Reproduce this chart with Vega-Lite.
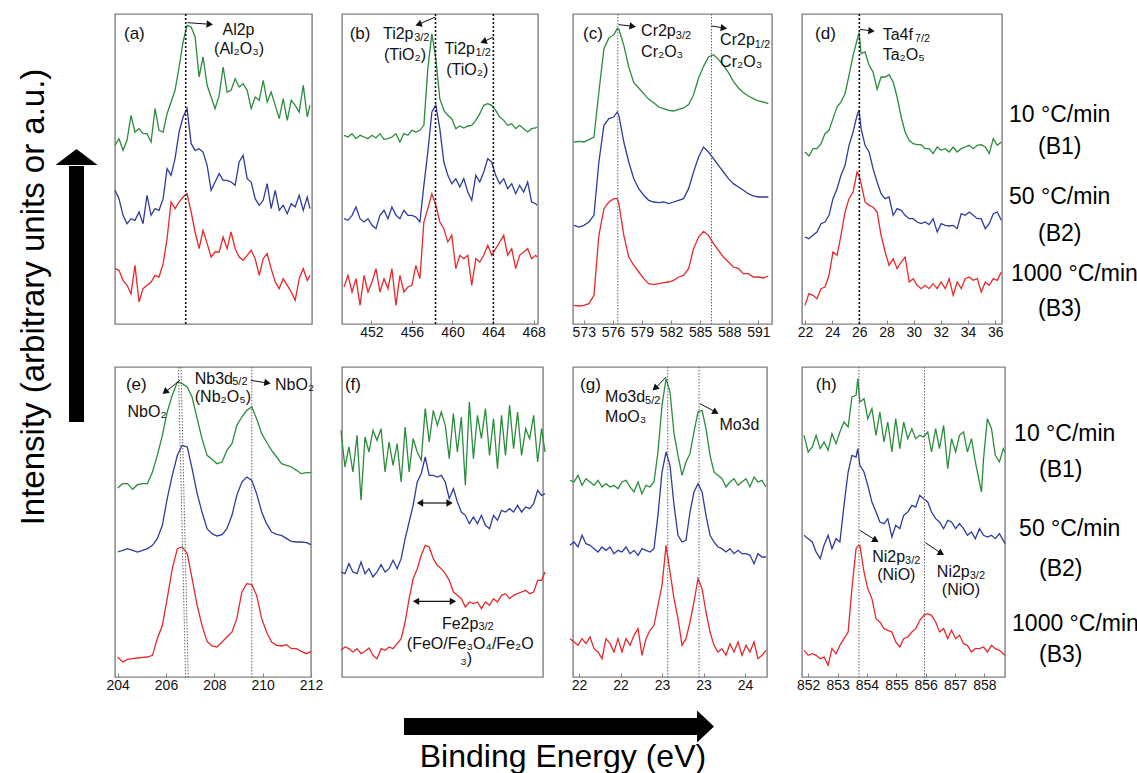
{
"$schema":"https://vega.github.io/schema/vega-lite/v6.json",
"padding":{"left":0,"top":12,"right":0,"bottom":0},
"background":"white",
"config":{
"font":"Liberation Sans",
"view":{"stroke":"#808080","strokeWidth":1.4},
"axisX":{"title":null,"grid":false,"domain":false,"ticks":true,"tickSize":-4,"tickColor":"#808080","labelFontSize":14,"labelColor":"#111","labelPadding":5,"labelFlush":false,"labelOverlap":false,"labelFont":"Liberation Sans"},
"range":{"category":["#2a8c3c","#2e3d9c","#e8282a"]},
"line":{"strokeWidth":1.3},
"text":{"font":"Liberation Sans","align":"left","baseline":"middle","fontSize":16,"color":"#111"},
"point":{"filled":true,"color":"#111","opacity":1}
},
"datasets":{
"a":[{"x":68.85,"y":536,"s":"B1"},{"x":69.2,"y":556,"s":"B1"},{"x":69.56,"y":521,"s":"B1"},{"x":69.91,"y":551,"s":"B1"},{"x":70.26,"y":626,"s":"B1"},{"x":70.61,"y":576,"s":"B1"},{"x":70.97,"y":586,"s":"B1"},{"x":71.32,"y":571,"s":"B1"},{"x":71.67,"y":571,"s":"B1"},{"x":72.03,"y":546,"s":"B1"},{"x":72.38,"y":646,"s":"B1"},{"x":72.73,"y":581,"s":"B1"},{"x":73.09,"y":576,"s":"B1"},{"x":73.44,"y":631,"s":"B1"},{"x":73.79,"y":666,"s":"B1"},{"x":74.14,"y":701,"s":"B1"},{"x":74.5,"y":771,"s":"B1"},{"x":74.85,"y":846,"s":"B1"},{"x":75.2,"y":896,"s":"B1"},{"x":75.56,"y":891,"s":"B1"},{"x":75.91,"y":861,"s":"B1"},{"x":76.26,"y":741,"s":"B1"},{"x":76.61,"y":801,"s":"B1"},{"x":76.97,"y":716,"s":"B1"},{"x":77.32,"y":681,"s":"B1"},{"x":77.67,"y":646,"s":"B1"},{"x":78.03,"y":686,"s":"B1"},{"x":78.38,"y":771,"s":"B1"},{"x":78.73,"y":696,"s":"B1"},{"x":79.08,"y":701,"s":"B1"},{"x":79.44,"y":736,"s":"B1"},{"x":79.79,"y":711,"s":"B1"},{"x":80.14,"y":721,"s":"B1"},{"x":80.5,"y":701,"s":"B1"},{"x":80.85,"y":646,"s":"B1"},{"x":81.2,"y":681,"s":"B1"},{"x":81.56,"y":671,"s":"B1"},{"x":81.91,"y":731,"s":"B1"},{"x":82.26,"y":666,"s":"B1"},{"x":82.61,"y":696,"s":"B1"},{"x":82.97,"y":656,"s":"B1"},{"x":83.32,"y":616,"s":"B1"},{"x":83.67,"y":676,"s":"B1"},{"x":84.03,"y":611,"s":"B1"},{"x":84.38,"y":671,"s":"B1"},{"x":84.73,"y":656,"s":"B1"},{"x":85.08,"y":636,"s":"B1"},{"x":85.44,"y":716,"s":"B1"},{"x":85.79,"y":621,"s":"B1"},{"x":86.03,"y":656,"s":"B1"},
{"x":68.85,"y":401,"s":"B2"},{"x":69.2,"y":376,"s":"B2"},{"x":69.56,"y":326,"s":"B2"},{"x":69.91,"y":301,"s":"B2"},{"x":70.26,"y":316,"s":"B2"},{"x":70.61,"y":311,"s":"B2"},{"x":70.97,"y":336,"s":"B2"},{"x":71.32,"y":301,"s":"B2"},{"x":71.67,"y":386,"s":"B2"},{"x":72.03,"y":326,"s":"B2"},{"x":72.38,"y":346,"s":"B2"},{"x":72.73,"y":341,"s":"B2"},{"x":73.09,"y":376,"s":"B2"},{"x":73.44,"y":466,"s":"B2"},{"x":73.79,"y":446,"s":"B2"},{"x":74.14,"y":496,"s":"B2"},{"x":74.5,"y":576,"s":"B2"},{"x":74.85,"y":621,"s":"B2"},{"x":75.2,"y":646,"s":"B2"},{"x":75.56,"y":541,"s":"B2"},{"x":75.91,"y":521,"s":"B2"},{"x":76.26,"y":526,"s":"B2"},{"x":76.61,"y":516,"s":"B2"},{"x":76.97,"y":476,"s":"B2"},{"x":77.32,"y":401,"s":"B2"},{"x":77.67,"y":426,"s":"B2"},{"x":78.03,"y":451,"s":"B2"},{"x":78.38,"y":431,"s":"B2"},{"x":78.73,"y":431,"s":"B2"},{"x":79.08,"y":426,"s":"B2"},{"x":79.44,"y":416,"s":"B2"},{"x":79.79,"y":486,"s":"B2"},{"x":80.14,"y":506,"s":"B2"},{"x":80.5,"y":436,"s":"B2"},{"x":80.85,"y":426,"s":"B2"},{"x":81.2,"y":376,"s":"B2"},{"x":81.56,"y":356,"s":"B2"},{"x":81.91,"y":371,"s":"B2"},{"x":82.26,"y":421,"s":"B2"},{"x":82.61,"y":346,"s":"B2"},{"x":82.97,"y":401,"s":"B2"},{"x":83.32,"y":341,"s":"B2"},{"x":83.67,"y":356,"s":"B2"},{"x":84.03,"y":331,"s":"B2"},{"x":84.38,"y":361,"s":"B2"},{"x":84.73,"y":351,"s":"B2"},{"x":85.08,"y":386,"s":"B2"},{"x":85.44,"y":341,"s":"B2"},{"x":85.79,"y":381,"s":"B2"},{"x":86.03,"y":346,"s":"B2"},
{"x":68.85,"y":166,"s":"B3"},{"x":69.2,"y":161,"s":"B3"},{"x":69.56,"y":131,"s":"B3"},{"x":69.91,"y":116,"s":"B3"},{"x":70.26,"y":91,"s":"B3"},{"x":70.61,"y":176,"s":"B3"},{"x":70.97,"y":66,"s":"B3"},{"x":71.32,"y":106,"s":"B3"},{"x":71.67,"y":116,"s":"B3"},{"x":72.03,"y":126,"s":"B3"},{"x":72.38,"y":146,"s":"B3"},{"x":72.73,"y":141,"s":"B3"},{"x":73.09,"y":181,"s":"B3"},{"x":73.44,"y":256,"s":"B3"},{"x":73.79,"y":366,"s":"B3"},{"x":74.14,"y":346,"s":"B3"},{"x":74.5,"y":366,"s":"B3"},{"x":74.85,"y":381,"s":"B3"},{"x":75.2,"y":391,"s":"B3"},{"x":75.56,"y":336,"s":"B3"},{"x":75.91,"y":276,"s":"B3"},{"x":76.26,"y":226,"s":"B3"},{"x":76.61,"y":281,"s":"B3"},{"x":76.97,"y":241,"s":"B3"},{"x":77.32,"y":201,"s":"B3"},{"x":77.67,"y":216,"s":"B3"},{"x":78.03,"y":216,"s":"B3"},{"x":78.38,"y":261,"s":"B3"},{"x":78.73,"y":226,"s":"B3"},{"x":79.08,"y":276,"s":"B3"},{"x":79.44,"y":226,"s":"B3"},{"x":79.79,"y":201,"s":"B3"},{"x":80.14,"y":191,"s":"B3"},{"x":80.5,"y":206,"s":"B3"},{"x":80.85,"y":221,"s":"B3"},{"x":81.2,"y":196,"s":"B3"},{"x":81.56,"y":146,"s":"B3"},{"x":81.91,"y":196,"s":"B3"},{"x":82.26,"y":211,"s":"B3"},{"x":82.61,"y":166,"s":"B3"},{"x":82.97,"y":126,"s":"B3"},{"x":83.32,"y":106,"s":"B3"},{"x":83.67,"y":136,"s":"B3"},{"x":84.03,"y":116,"s":"B3"},{"x":84.38,"y":96,"s":"B3"},{"x":84.73,"y":71,"s":"B3"},{"x":85.08,"y":136,"s":"B3"},{"x":85.44,"y":166,"s":"B3"},{"x":85.79,"y":131,"s":"B3"},{"x":86.03,"y":146,"s":"B3"}],
"b":[{"x":449.31,"y":566,"s":"B1"},{"x":449.7,"y":561,"s":"B1"},{"x":450.1,"y":571,"s":"B1"},{"x":450.49,"y":556,"s":"B1"},{"x":450.89,"y":566,"s":"B1"},{"x":451.28,"y":561,"s":"B1"},{"x":451.67,"y":556,"s":"B1"},{"x":452.07,"y":566,"s":"B1"},{"x":452.46,"y":558,"s":"B1"},{"x":452.85,"y":571,"s":"B1"},{"x":453.25,"y":554,"s":"B1"},{"x":453.64,"y":556,"s":"B1"},{"x":454.03,"y":561,"s":"B1"},{"x":454.43,"y":571,"s":"B1"},{"x":454.82,"y":546,"s":"B1"},{"x":455.21,"y":571,"s":"B1"},{"x":455.61,"y":566,"s":"B1"},{"x":456.0,"y":581,"s":"B1"},{"x":456.39,"y":576,"s":"B1"},{"x":456.79,"y":581,"s":"B1"},{"x":457.18,"y":596,"s":"B1"},{"x":457.57,"y":766,"s":"B1"},{"x":457.97,"y":871,"s":"B1"},{"x":458.36,"y":796,"s":"B1"},{"x":458.75,"y":676,"s":"B1"},{"x":459.15,"y":641,"s":"B1"},{"x":459.54,"y":626,"s":"B1"},{"x":459.93,"y":616,"s":"B1"},{"x":460.33,"y":586,"s":"B1"},{"x":460.72,"y":594,"s":"B1"},{"x":461.11,"y":588,"s":"B1"},{"x":461.51,"y":594,"s":"B1"},{"x":461.9,"y":596,"s":"B1"},{"x":462.3,"y":611,"s":"B1"},{"x":462.69,"y":631,"s":"B1"},{"x":463.08,"y":656,"s":"B1"},{"x":463.48,"y":661,"s":"B1"},{"x":463.87,"y":656,"s":"B1"},{"x":464.26,"y":641,"s":"B1"},{"x":464.66,"y":621,"s":"B1"},{"x":465.05,"y":611,"s":"B1"},{"x":465.44,"y":596,"s":"B1"},{"x":465.84,"y":601,"s":"B1"},{"x":466.23,"y":586,"s":"B1"},{"x":466.62,"y":596,"s":"B1"},{"x":467.02,"y":586,"s":"B1"},{"x":467.41,"y":576,"s":"B1"},{"x":467.8,"y":586,"s":"B1"},{"x":468.2,"y":588,"s":"B1"},{"x":468.33,"y":591,"s":"B1"},
{"x":449.31,"y":316,"s":"B2"},{"x":449.7,"y":311,"s":"B2"},{"x":450.1,"y":326,"s":"B2"},{"x":450.49,"y":351,"s":"B2"},{"x":450.89,"y":316,"s":"B2"},{"x":451.28,"y":306,"s":"B2"},{"x":451.67,"y":316,"s":"B2"},{"x":452.07,"y":296,"s":"B2"},{"x":452.46,"y":286,"s":"B2"},{"x":452.85,"y":326,"s":"B2"},{"x":453.25,"y":341,"s":"B2"},{"x":453.64,"y":316,"s":"B2"},{"x":454.03,"y":351,"s":"B2"},{"x":454.43,"y":326,"s":"B2"},{"x":454.82,"y":316,"s":"B2"},{"x":455.21,"y":341,"s":"B2"},{"x":455.61,"y":326,"s":"B2"},{"x":456.0,"y":326,"s":"B2"},{"x":456.39,"y":321,"s":"B2"},{"x":456.79,"y":306,"s":"B2"},{"x":457.18,"y":416,"s":"B2"},{"x":457.57,"y":516,"s":"B2"},{"x":457.97,"y":636,"s":"B2"},{"x":458.36,"y":656,"s":"B2"},{"x":458.75,"y":586,"s":"B2"},{"x":459.15,"y":486,"s":"B2"},{"x":459.54,"y":446,"s":"B2"},{"x":459.93,"y":421,"s":"B2"},{"x":460.33,"y":436,"s":"B2"},{"x":460.72,"y":411,"s":"B2"},{"x":461.11,"y":436,"s":"B2"},{"x":461.51,"y":396,"s":"B2"},{"x":461.9,"y":371,"s":"B2"},{"x":462.3,"y":446,"s":"B2"},{"x":462.69,"y":426,"s":"B2"},{"x":463.08,"y":456,"s":"B2"},{"x":463.48,"y":496,"s":"B2"},{"x":463.87,"y":486,"s":"B2"},{"x":464.26,"y":446,"s":"B2"},{"x":464.66,"y":421,"s":"B2"},{"x":465.05,"y":436,"s":"B2"},{"x":465.44,"y":406,"s":"B2"},{"x":465.84,"y":421,"s":"B2"},{"x":466.23,"y":391,"s":"B2"},{"x":466.62,"y":416,"s":"B2"},{"x":467.02,"y":396,"s":"B2"},{"x":467.41,"y":426,"s":"B2"},{"x":467.8,"y":366,"s":"B2"},{"x":468.2,"y":361,"s":"B2"},{"x":468.33,"y":356,"s":"B2"},
{"x":449.31,"y":111,"s":"B3"},{"x":449.7,"y":146,"s":"B3"},{"x":450.1,"y":96,"s":"B3"},{"x":450.49,"y":136,"s":"B3"},{"x":450.89,"y":56,"s":"B3"},{"x":451.28,"y":146,"s":"B3"},{"x":451.67,"y":96,"s":"B3"},{"x":452.07,"y":126,"s":"B3"},{"x":452.46,"y":166,"s":"B3"},{"x":452.85,"y":96,"s":"B3"},{"x":453.25,"y":136,"s":"B3"},{"x":453.64,"y":106,"s":"B3"},{"x":454.03,"y":166,"s":"B3"},{"x":454.43,"y":56,"s":"B3"},{"x":454.82,"y":146,"s":"B3"},{"x":455.21,"y":96,"s":"B3"},{"x":455.61,"y":111,"s":"B3"},{"x":456.0,"y":116,"s":"B3"},{"x":456.39,"y":176,"s":"B3"},{"x":456.79,"y":136,"s":"B3"},{"x":457.18,"y":306,"s":"B3"},{"x":457.57,"y":346,"s":"B3"},{"x":457.97,"y":391,"s":"B3"},{"x":458.36,"y":356,"s":"B3"},{"x":458.75,"y":306,"s":"B3"},{"x":459.15,"y":286,"s":"B3"},{"x":459.54,"y":246,"s":"B3"},{"x":459.93,"y":266,"s":"B3"},{"x":460.33,"y":166,"s":"B3"},{"x":460.72,"y":206,"s":"B3"},{"x":461.11,"y":196,"s":"B3"},{"x":461.51,"y":206,"s":"B3"},{"x":461.9,"y":116,"s":"B3"},{"x":462.3,"y":196,"s":"B3"},{"x":462.69,"y":186,"s":"B3"},{"x":463.08,"y":206,"s":"B3"},{"x":463.48,"y":236,"s":"B3"},{"x":463.87,"y":206,"s":"B3"},{"x":464.26,"y":226,"s":"B3"},{"x":464.66,"y":246,"s":"B3"},{"x":465.05,"y":266,"s":"B3"},{"x":465.44,"y":206,"s":"B3"},{"x":465.84,"y":226,"s":"B3"},{"x":466.23,"y":166,"s":"B3"},{"x":466.62,"y":206,"s":"B3"},{"x":467.02,"y":216,"s":"B3"},{"x":467.41,"y":226,"s":"B3"},{"x":467.8,"y":196,"s":"B3"},{"x":468.2,"y":206,"s":"B3"},{"x":468.33,"y":201,"s":"B3"}],
"c":[{"x":571.99,"y":546,"s":"B1"},{"x":572.51,"y":548,"s":"B1"},{"x":573.02,"y":546,"s":"B1"},{"x":573.53,"y":553,"s":"B1"},{"x":574.05,"y":561,"s":"B1"},{"x":574.56,"y":696,"s":"B1"},{"x":575.08,"y":826,"s":"B1"},{"x":575.59,"y":858,"s":"B1"},{"x":576.1,"y":868,"s":"B1"},{"x":576.45,"y":886,"s":"B1"},{"x":576.62,"y":884,"s":"B1"},{"x":577.13,"y":836,"s":"B1"},{"x":577.64,"y":771,"s":"B1"},{"x":578.16,"y":724,"s":"B1"},{"x":578.67,"y":708,"s":"B1"},{"x":579.18,"y":691,"s":"B1"},{"x":579.7,"y":674,"s":"B1"},{"x":580.21,"y":664,"s":"B1"},{"x":580.73,"y":651,"s":"B1"},{"x":581.24,"y":646,"s":"B1"},{"x":581.75,"y":641,"s":"B1"},{"x":582.27,"y":639,"s":"B1"},{"x":582.78,"y":644,"s":"B1"},{"x":583.29,"y":648,"s":"B1"},{"x":583.81,"y":658,"s":"B1"},{"x":584.32,"y":688,"s":"B1"},{"x":584.84,"y":738,"s":"B1"},{"x":585.35,"y":773,"s":"B1"},{"x":585.86,"y":801,"s":"B1"},{"x":586.38,"y":808,"s":"B1"},{"x":586.89,"y":794,"s":"B1"},{"x":587.4,"y":776,"s":"B1"},{"x":587.92,"y":754,"s":"B1"},{"x":588.43,"y":728,"s":"B1"},{"x":588.95,"y":708,"s":"B1"},{"x":589.46,"y":694,"s":"B1"},{"x":589.97,"y":684,"s":"B1"},{"x":590.49,"y":676,"s":"B1"},{"x":591.0,"y":669,"s":"B1"},{"x":591.51,"y":666,"s":"B1"},{"x":592.03,"y":661,"s":"B1"},
{"x":571.99,"y":296,"s":"B2"},{"x":572.51,"y":291,"s":"B2"},{"x":573.02,"y":296,"s":"B2"},{"x":573.53,"y":306,"s":"B2"},{"x":574.05,"y":326,"s":"B2"},{"x":574.56,"y":486,"s":"B2"},{"x":575.08,"y":596,"s":"B2"},{"x":575.59,"y":616,"s":"B2"},{"x":576.1,"y":621,"s":"B2"},{"x":576.45,"y":636,"s":"B2"},{"x":576.62,"y":626,"s":"B2"},{"x":577.13,"y":546,"s":"B2"},{"x":577.64,"y":486,"s":"B2"},{"x":578.16,"y":436,"s":"B2"},{"x":578.67,"y":406,"s":"B2"},{"x":579.18,"y":386,"s":"B2"},{"x":579.7,"y":371,"s":"B2"},{"x":580.21,"y":366,"s":"B2"},{"x":580.73,"y":364,"s":"B2"},{"x":581.24,"y":366,"s":"B2"},{"x":581.75,"y":361,"s":"B2"},{"x":582.27,"y":366,"s":"B2"},{"x":582.78,"y":371,"s":"B2"},{"x":583.29,"y":376,"s":"B2"},{"x":583.81,"y":406,"s":"B2"},{"x":584.32,"y":456,"s":"B2"},{"x":584.84,"y":501,"s":"B2"},{"x":585.35,"y":531,"s":"B2"},{"x":585.86,"y":516,"s":"B2"},{"x":586.38,"y":496,"s":"B2"},{"x":586.89,"y":476,"s":"B2"},{"x":587.4,"y":456,"s":"B2"},{"x":587.92,"y":436,"s":"B2"},{"x":588.43,"y":421,"s":"B2"},{"x":588.95,"y":411,"s":"B2"},{"x":589.46,"y":401,"s":"B2"},{"x":589.97,"y":391,"s":"B2"},{"x":590.49,"y":384,"s":"B2"},{"x":591.0,"y":381,"s":"B2"},{"x":591.51,"y":381,"s":"B2"},{"x":592.03,"y":381,"s":"B2"},
{"x":571.99,"y":56,"s":"B3"},{"x":572.51,"y":54,"s":"B3"},{"x":573.02,"y":56,"s":"B3"},{"x":573.53,"y":61,"s":"B3"},{"x":574.05,"y":86,"s":"B3"},{"x":574.56,"y":266,"s":"B3"},{"x":575.08,"y":346,"s":"B3"},{"x":575.59,"y":366,"s":"B3"},{"x":576.1,"y":376,"s":"B3"},{"x":576.45,"y":376,"s":"B3"},{"x":576.62,"y":361,"s":"B3"},{"x":577.13,"y":266,"s":"B3"},{"x":577.64,"y":201,"s":"B3"},{"x":578.16,"y":176,"s":"B3"},{"x":578.67,"y":156,"s":"B3"},{"x":579.18,"y":136,"s":"B3"},{"x":579.7,"y":121,"s":"B3"},{"x":580.21,"y":118,"s":"B3"},{"x":580.73,"y":121,"s":"B3"},{"x":581.24,"y":124,"s":"B3"},{"x":581.75,"y":126,"s":"B3"},{"x":582.27,"y":131,"s":"B3"},{"x":582.78,"y":141,"s":"B3"},{"x":583.29,"y":146,"s":"B3"},{"x":583.81,"y":166,"s":"B3"},{"x":584.32,"y":226,"s":"B3"},{"x":584.84,"y":261,"s":"B3"},{"x":585.35,"y":278,"s":"B3"},{"x":585.86,"y":266,"s":"B3"},{"x":586.38,"y":241,"s":"B3"},{"x":586.89,"y":221,"s":"B3"},{"x":587.4,"y":201,"s":"B3"},{"x":587.92,"y":186,"s":"B3"},{"x":588.43,"y":171,"s":"B3"},{"x":588.95,"y":166,"s":"B3"},{"x":589.46,"y":151,"s":"B3"},{"x":589.97,"y":151,"s":"B3"},{"x":590.49,"y":141,"s":"B3"},{"x":591.0,"y":141,"s":"B3"},{"x":591.51,"y":138,"s":"B3"},{"x":592.03,"y":144,"s":"B3"}],
"d":[{"x":22.0,"y":516,"s":"B1"},{"x":22.29,"y":504,"s":"B1"},{"x":22.59,"y":526,"s":"B1"},{"x":22.88,"y":526,"s":"B1"},{"x":23.18,"y":541,"s":"B1"},{"x":23.47,"y":571,"s":"B1"},{"x":23.77,"y":581,"s":"B1"},{"x":24.06,"y":616,"s":"B1"},{"x":24.36,"y":651,"s":"B1"},{"x":24.65,"y":666,"s":"B1"},{"x":24.95,"y":691,"s":"B1"},{"x":25.24,"y":746,"s":"B1"},{"x":25.54,"y":806,"s":"B1"},{"x":25.83,"y":851,"s":"B1"},{"x":25.98,"y":874,"s":"B1"},{"x":26.13,"y":811,"s":"B1"},{"x":26.42,"y":816,"s":"B1"},{"x":26.72,"y":776,"s":"B1"},{"x":27.01,"y":756,"s":"B1"},{"x":27.31,"y":704,"s":"B1"},{"x":27.6,"y":741,"s":"B1"},{"x":27.9,"y":741,"s":"B1"},{"x":28.19,"y":748,"s":"B1"},{"x":28.49,"y":726,"s":"B1"},{"x":28.78,"y":681,"s":"B1"},{"x":29.08,"y":621,"s":"B1"},{"x":29.37,"y":576,"s":"B1"},{"x":29.67,"y":551,"s":"B1"},{"x":29.96,"y":541,"s":"B1"},{"x":30.25,"y":538,"s":"B1"},{"x":30.55,"y":538,"s":"B1"},{"x":30.84,"y":526,"s":"B1"},{"x":31.14,"y":526,"s":"B1"},{"x":31.43,"y":511,"s":"B1"},{"x":31.73,"y":531,"s":"B1"},{"x":32.02,"y":521,"s":"B1"},{"x":32.32,"y":526,"s":"B1"},{"x":32.61,"y":516,"s":"B1"},{"x":32.91,"y":531,"s":"B1"},{"x":33.2,"y":516,"s":"B1"},{"x":33.5,"y":526,"s":"B1"},{"x":33.79,"y":531,"s":"B1"},{"x":34.09,"y":536,"s":"B1"},{"x":34.38,"y":526,"s":"B1"},{"x":34.68,"y":536,"s":"B1"},{"x":34.97,"y":538,"s":"B1"},{"x":35.27,"y":531,"s":"B1"},{"x":35.56,"y":511,"s":"B1"},{"x":35.86,"y":556,"s":"B1"},{"x":36.15,"y":536,"s":"B1"},{"x":36.45,"y":546,"s":"B1"},
{"x":22.0,"y":261,"s":"B2"},{"x":22.29,"y":256,"s":"B2"},{"x":22.59,"y":266,"s":"B2"},{"x":22.88,"y":276,"s":"B2"},{"x":23.18,"y":301,"s":"B2"},{"x":23.47,"y":306,"s":"B2"},{"x":23.77,"y":326,"s":"B2"},{"x":24.06,"y":376,"s":"B2"},{"x":24.36,"y":406,"s":"B2"},{"x":24.65,"y":446,"s":"B2"},{"x":24.95,"y":476,"s":"B2"},{"x":25.24,"y":536,"s":"B2"},{"x":25.54,"y":576,"s":"B2"},{"x":25.83,"y":626,"s":"B2"},{"x":25.98,"y":641,"s":"B2"},{"x":26.13,"y":586,"s":"B2"},{"x":26.42,"y":536,"s":"B2"},{"x":26.72,"y":516,"s":"B2"},{"x":27.01,"y":466,"s":"B2"},{"x":27.31,"y":426,"s":"B2"},{"x":27.6,"y":391,"s":"B2"},{"x":27.9,"y":376,"s":"B2"},{"x":28.19,"y":381,"s":"B2"},{"x":28.49,"y":326,"s":"B2"},{"x":28.78,"y":346,"s":"B2"},{"x":29.08,"y":341,"s":"B2"},{"x":29.37,"y":326,"s":"B2"},{"x":29.67,"y":316,"s":"B2"},{"x":29.96,"y":316,"s":"B2"},{"x":30.25,"y":306,"s":"B2"},{"x":30.55,"y":301,"s":"B2"},{"x":30.84,"y":306,"s":"B2"},{"x":31.14,"y":298,"s":"B2"},{"x":31.43,"y":316,"s":"B2"},{"x":31.73,"y":276,"s":"B2"},{"x":32.02,"y":301,"s":"B2"},{"x":32.32,"y":296,"s":"B2"},{"x":32.61,"y":294,"s":"B2"},{"x":32.91,"y":296,"s":"B2"},{"x":33.2,"y":286,"s":"B2"},{"x":33.5,"y":331,"s":"B2"},{"x":33.79,"y":326,"s":"B2"},{"x":34.09,"y":336,"s":"B2"},{"x":34.38,"y":326,"s":"B2"},{"x":34.68,"y":316,"s":"B2"},{"x":34.97,"y":316,"s":"B2"},{"x":35.27,"y":286,"s":"B2"},{"x":35.56,"y":301,"s":"B2"},{"x":35.86,"y":331,"s":"B2"},{"x":36.15,"y":336,"s":"B2"},{"x":36.45,"y":311,"s":"B2"},
{"x":22.0,"y":56,"s":"B3"},{"x":22.29,"y":91,"s":"B3"},{"x":22.59,"y":86,"s":"B3"},{"x":22.88,"y":76,"s":"B3"},{"x":23.18,"y":106,"s":"B3"},{"x":23.47,"y":111,"s":"B3"},{"x":23.77,"y":146,"s":"B3"},{"x":24.06,"y":216,"s":"B3"},{"x":24.36,"y":206,"s":"B3"},{"x":24.65,"y":266,"s":"B3"},{"x":24.95,"y":336,"s":"B3"},{"x":25.24,"y":376,"s":"B3"},{"x":25.54,"y":396,"s":"B3"},{"x":25.83,"y":456,"s":"B3"},{"x":25.98,"y":446,"s":"B3"},{"x":26.13,"y":421,"s":"B3"},{"x":26.42,"y":366,"s":"B3"},{"x":26.72,"y":356,"s":"B3"},{"x":27.01,"y":351,"s":"B3"},{"x":27.31,"y":336,"s":"B3"},{"x":27.6,"y":266,"s":"B3"},{"x":27.9,"y":216,"s":"B3"},{"x":28.19,"y":176,"s":"B3"},{"x":28.49,"y":196,"s":"B3"},{"x":28.78,"y":166,"s":"B3"},{"x":29.08,"y":186,"s":"B3"},{"x":29.37,"y":201,"s":"B3"},{"x":29.67,"y":126,"s":"B3"},{"x":29.96,"y":136,"s":"B3"},{"x":30.25,"y":116,"s":"B3"},{"x":30.55,"y":106,"s":"B3"},{"x":30.84,"y":116,"s":"B3"},{"x":31.14,"y":106,"s":"B3"},{"x":31.43,"y":121,"s":"B3"},{"x":31.73,"y":106,"s":"B3"},{"x":32.02,"y":126,"s":"B3"},{"x":32.32,"y":106,"s":"B3"},{"x":32.61,"y":136,"s":"B3"},{"x":32.91,"y":86,"s":"B3"},{"x":33.2,"y":126,"s":"B3"},{"x":33.5,"y":106,"s":"B3"},{"x":33.79,"y":136,"s":"B3"},{"x":34.09,"y":141,"s":"B3"},{"x":34.38,"y":131,"s":"B3"},{"x":34.68,"y":136,"s":"B3"},{"x":34.97,"y":96,"s":"B3"},{"x":35.27,"y":126,"s":"B3"},{"x":35.56,"y":116,"s":"B3"},{"x":35.86,"y":136,"s":"B3"},{"x":36.15,"y":131,"s":"B3"},{"x":36.45,"y":156,"s":"B3"}],
"e":[{"x":204.0,"y":567,"s":"B1"},{"x":204.21,"y":580,"s":"B1"},{"x":204.41,"y":580,"s":"B1"},{"x":204.62,"y":563,"s":"B1"},{"x":204.82,"y":577,"s":"B1"},{"x":205.03,"y":580,"s":"B1"},{"x":205.23,"y":580,"s":"B1"},{"x":205.44,"y":615,"s":"B1"},{"x":205.64,"y":665,"s":"B1"},{"x":205.85,"y":725,"s":"B1"},{"x":206.05,"y":795,"s":"B1"},{"x":206.26,"y":845,"s":"B1"},{"x":206.47,"y":885,"s":"B1"},{"x":206.67,"y":880,"s":"B1"},{"x":206.88,"y":870,"s":"B1"},{"x":207.08,"y":840,"s":"B1"},{"x":207.29,"y":775,"s":"B1"},{"x":207.49,"y":715,"s":"B1"},{"x":207.7,"y":665,"s":"B1"},{"x":207.9,"y":653,"s":"B1"},{"x":208.11,"y":640,"s":"B1"},{"x":208.32,"y":645,"s":"B1"},{"x":208.52,"y":680,"s":"B1"},{"x":208.73,"y":700,"s":"B1"},{"x":208.93,"y":755,"s":"B1"},{"x":209.14,"y":780,"s":"B1"},{"x":209.34,"y":800,"s":"B1"},{"x":209.55,"y":810,"s":"B1"},{"x":209.75,"y":775,"s":"B1"},{"x":209.96,"y":730,"s":"B1"},{"x":210.16,"y":705,"s":"B1"},{"x":210.37,"y":680,"s":"B1"},{"x":210.58,"y":660,"s":"B1"},{"x":210.78,"y":640,"s":"B1"},{"x":210.99,"y":635,"s":"B1"},{"x":211.19,"y":630,"s":"B1"},{"x":211.4,"y":620,"s":"B1"},{"x":211.6,"y":610,"s":"B1"},{"x":211.81,"y":613,"s":"B1"},{"x":212.0,"y":613,"s":"B1"},
{"x":204.0,"y":375,"s":"B2"},{"x":204.21,"y":380,"s":"B2"},{"x":204.41,"y":385,"s":"B2"},{"x":204.62,"y":380,"s":"B2"},{"x":204.82,"y":375,"s":"B2"},{"x":205.03,"y":380,"s":"B2"},{"x":205.23,"y":385,"s":"B2"},{"x":205.44,"y":395,"s":"B2"},{"x":205.64,"y":415,"s":"B2"},{"x":205.85,"y":455,"s":"B2"},{"x":206.05,"y":535,"s":"B2"},{"x":206.26,"y":605,"s":"B2"},{"x":206.47,"y":665,"s":"B2"},{"x":206.67,"y":695,"s":"B2"},{"x":206.88,"y":690,"s":"B2"},{"x":207.08,"y":625,"s":"B2"},{"x":207.29,"y":550,"s":"B2"},{"x":207.49,"y":495,"s":"B2"},{"x":207.7,"y":445,"s":"B2"},{"x":207.9,"y":430,"s":"B2"},{"x":208.11,"y":423,"s":"B2"},{"x":208.32,"y":427,"s":"B2"},{"x":208.52,"y":445,"s":"B2"},{"x":208.73,"y":485,"s":"B2"},{"x":208.93,"y":545,"s":"B2"},{"x":209.14,"y":585,"s":"B2"},{"x":209.34,"y":600,"s":"B2"},{"x":209.55,"y":590,"s":"B2"},{"x":209.75,"y":550,"s":"B2"},{"x":209.96,"y":495,"s":"B2"},{"x":210.16,"y":460,"s":"B2"},{"x":210.37,"y":435,"s":"B2"},{"x":210.58,"y":428,"s":"B2"},{"x":210.78,"y":425,"s":"B2"},{"x":210.99,"y":415,"s":"B2"},{"x":211.19,"y":407,"s":"B2"},{"x":211.4,"y":405,"s":"B2"},{"x":211.6,"y":405,"s":"B2"},{"x":211.81,"y":403,"s":"B2"},{"x":212.0,"y":397,"s":"B2"},
{"x":204.0,"y":60,"s":"B3"},{"x":204.21,"y":45,"s":"B3"},{"x":204.41,"y":53,"s":"B3"},{"x":204.62,"y":55,"s":"B3"},{"x":204.82,"y":57,"s":"B3"},{"x":205.03,"y":59,"s":"B3"},{"x":205.23,"y":60,"s":"B3"},{"x":205.44,"y":65,"s":"B3"},{"x":205.64,"y":115,"s":"B3"},{"x":205.85,"y":155,"s":"B3"},{"x":206.05,"y":235,"s":"B3"},{"x":206.26,"y":325,"s":"B3"},{"x":206.47,"y":385,"s":"B3"},{"x":206.67,"y":390,"s":"B3"},{"x":206.88,"y":370,"s":"B3"},{"x":207.08,"y":295,"s":"B3"},{"x":207.29,"y":215,"s":"B3"},{"x":207.49,"y":155,"s":"B3"},{"x":207.7,"y":107,"s":"B3"},{"x":207.9,"y":93,"s":"B3"},{"x":208.11,"y":90,"s":"B3"},{"x":208.32,"y":105,"s":"B3"},{"x":208.52,"y":120,"s":"B3"},{"x":208.73,"y":135,"s":"B3"},{"x":208.93,"y":175,"s":"B3"},{"x":209.14,"y":255,"s":"B3"},{"x":209.34,"y":280,"s":"B3"},{"x":209.55,"y":277,"s":"B3"},{"x":209.75,"y":245,"s":"B3"},{"x":209.96,"y":175,"s":"B3"},{"x":210.16,"y":135,"s":"B3"},{"x":210.37,"y":105,"s":"B3"},{"x":210.58,"y":95,"s":"B3"},{"x":210.78,"y":93,"s":"B3"},{"x":210.99,"y":97,"s":"B3"},{"x":211.19,"y":85,"s":"B3"},{"x":211.4,"y":85,"s":"B3"},{"x":211.6,"y":77,"s":"B3"},{"x":211.81,"y":70,"s":"B3"},{"x":212.0,"y":77,"s":"B3"}],
"f":[{"x":702.03,"y":740,"s":"B1"},{"x":702.41,"y":630,"s":"B1"},{"x":702.79,"y":690,"s":"B1"},{"x":703.17,"y":615,"s":"B1"},{"x":703.56,"y":725,"s":"B1"},{"x":703.94,"y":530,"s":"B1"},{"x":704.32,"y":720,"s":"B1"},{"x":704.7,"y":675,"s":"B1"},{"x":705.08,"y":740,"s":"B1"},{"x":705.46,"y":710,"s":"B1"},{"x":705.85,"y":745,"s":"B1"},{"x":706.23,"y":615,"s":"B1"},{"x":706.61,"y":705,"s":"B1"},{"x":706.99,"y":635,"s":"B1"},{"x":707.38,"y":700,"s":"B1"},{"x":707.76,"y":585,"s":"B1"},{"x":708.14,"y":750,"s":"B1"},{"x":708.52,"y":615,"s":"B1"},{"x":708.9,"y":715,"s":"B1"},{"x":709.29,"y":675,"s":"B1"},{"x":709.67,"y":650,"s":"B1"},{"x":710.05,"y":805,"s":"B1"},{"x":710.43,"y":705,"s":"B1"},{"x":710.82,"y":800,"s":"B1"},{"x":711.2,"y":755,"s":"B1"},{"x":711.58,"y":795,"s":"B1"},{"x":711.96,"y":755,"s":"B1"},{"x":712.34,"y":655,"s":"B1"},{"x":712.73,"y":790,"s":"B1"},{"x":713.11,"y":675,"s":"B1"},{"x":713.49,"y":780,"s":"B1"},{"x":713.87,"y":575,"s":"B1"},{"x":714.25,"y":825,"s":"B1"},{"x":714.64,"y":655,"s":"B1"},{"x":715.02,"y":785,"s":"B1"},{"x":715.4,"y":715,"s":"B1"},{"x":715.78,"y":805,"s":"B1"},{"x":716.17,"y":665,"s":"B1"},{"x":716.55,"y":775,"s":"B1"},{"x":716.93,"y":625,"s":"B1"},{"x":717.31,"y":785,"s":"B1"},{"x":717.69,"y":665,"s":"B1"},{"x":718.08,"y":815,"s":"B1"},{"x":718.46,"y":685,"s":"B1"},{"x":718.84,"y":795,"s":"B1"},{"x":719.22,"y":665,"s":"B1"},{"x":719.61,"y":745,"s":"B1"},{"x":719.99,"y":715,"s":"B1"},{"x":720.37,"y":785,"s":"B1"},{"x":720.75,"y":645,"s":"B1"},{"x":721.13,"y":745,"s":"B1"},{"x":721.45,"y":675,"s":"B1"},
{"x":702.03,"y":315,"s":"B2"},{"x":702.41,"y":310,"s":"B2"},{"x":702.79,"y":340,"s":"B2"},{"x":703.17,"y":315,"s":"B2"},{"x":703.56,"y":310,"s":"B2"},{"x":703.94,"y":345,"s":"B2"},{"x":704.32,"y":310,"s":"B2"},{"x":704.7,"y":325,"s":"B2"},{"x":705.08,"y":300,"s":"B2"},{"x":705.46,"y":315,"s":"B2"},{"x":705.85,"y":337,"s":"B2"},{"x":706.23,"y":315,"s":"B2"},{"x":706.61,"y":325,"s":"B2"},{"x":706.99,"y":350,"s":"B2"},{"x":707.38,"y":325,"s":"B2"},{"x":707.76,"y":355,"s":"B2"},{"x":708.14,"y":415,"s":"B2"},{"x":708.52,"y":465,"s":"B2"},{"x":708.9,"y":515,"s":"B2"},{"x":709.29,"y":585,"s":"B2"},{"x":709.67,"y":610,"s":"B2"},{"x":710.05,"y":660,"s":"B2"},{"x":710.43,"y":605,"s":"B2"},{"x":710.82,"y":605,"s":"B2"},{"x":711.2,"y":600,"s":"B2"},{"x":711.58,"y":605,"s":"B2"},{"x":711.96,"y":585,"s":"B2"},{"x":712.34,"y":535,"s":"B2"},{"x":712.73,"y":565,"s":"B2"},{"x":713.11,"y":525,"s":"B2"},{"x":713.49,"y":495,"s":"B2"},{"x":713.87,"y":485,"s":"B2"},{"x":714.25,"y":460,"s":"B2"},{"x":714.64,"y":480,"s":"B2"},{"x":715.02,"y":460,"s":"B2"},{"x":715.4,"y":485,"s":"B2"},{"x":715.78,"y":455,"s":"B2"},{"x":716.17,"y":445,"s":"B2"},{"x":716.55,"y":485,"s":"B2"},{"x":716.93,"y":470,"s":"B2"},{"x":717.31,"y":500,"s":"B2"},{"x":717.69,"y":495,"s":"B2"},{"x":718.08,"y":505,"s":"B2"},{"x":718.46,"y":495,"s":"B2"},{"x":718.84,"y":515,"s":"B2"},{"x":719.22,"y":495,"s":"B2"},{"x":719.61,"y":510,"s":"B2"},{"x":719.99,"y":505,"s":"B2"},{"x":720.37,"y":520,"s":"B2"},{"x":720.75,"y":560,"s":"B2"},{"x":721.13,"y":545,"s":"B2"},{"x":721.45,"y":550,"s":"B2"},
{"x":702.03,"y":80,"s":"B3"},{"x":702.41,"y":90,"s":"B3"},{"x":702.79,"y":85,"s":"B3"},{"x":703.17,"y":75,"s":"B3"},{"x":703.56,"y":85,"s":"B3"},{"x":703.94,"y":70,"s":"B3"},{"x":704.32,"y":77,"s":"B3"},{"x":704.7,"y":87,"s":"B3"},{"x":705.08,"y":65,"s":"B3"},{"x":705.46,"y":55,"s":"B3"},{"x":705.85,"y":85,"s":"B3"},{"x":706.23,"y":80,"s":"B3"},{"x":706.61,"y":90,"s":"B3"},{"x":706.99,"y":85,"s":"B3"},{"x":707.38,"y":100,"s":"B3"},{"x":707.76,"y":115,"s":"B3"},{"x":708.14,"y":165,"s":"B3"},{"x":708.52,"y":235,"s":"B3"},{"x":708.9,"y":295,"s":"B3"},{"x":709.29,"y":325,"s":"B3"},{"x":709.67,"y":365,"s":"B3"},{"x":710.05,"y":395,"s":"B3"},{"x":710.43,"y":390,"s":"B3"},{"x":710.82,"y":355,"s":"B3"},{"x":711.2,"y":335,"s":"B3"},{"x":711.58,"y":325,"s":"B3"},{"x":711.96,"y":310,"s":"B3"},{"x":712.34,"y":290,"s":"B3"},{"x":712.73,"y":255,"s":"B3"},{"x":713.11,"y":245,"s":"B3"},{"x":713.49,"y":235,"s":"B3"},{"x":713.87,"y":210,"s":"B3"},{"x":714.25,"y":225,"s":"B3"},{"x":714.64,"y":220,"s":"B3"},{"x":715.02,"y":225,"s":"B3"},{"x":715.4,"y":205,"s":"B3"},{"x":715.78,"y":225,"s":"B3"},{"x":716.17,"y":215,"s":"B3"},{"x":716.55,"y":235,"s":"B3"},{"x":716.93,"y":225,"s":"B3"},{"x":717.31,"y":245,"s":"B3"},{"x":717.69,"y":250,"s":"B3"},{"x":718.08,"y":235,"s":"B3"},{"x":718.46,"y":245,"s":"B3"},{"x":718.84,"y":250,"s":"B3"},{"x":719.22,"y":255,"s":"B3"},{"x":719.61,"y":260,"s":"B3"},{"x":719.99,"y":250,"s":"B3"},{"x":720.37,"y":255,"s":"B3"},{"x":720.75,"y":290,"s":"B3"},{"x":721.13,"y":290,"s":"B3"},{"x":721.45,"y":315,"s":"B3"}],
"g":[{"x":21.913,"y":590,"s":"B1"},{"x":21.952,"y":585,"s":"B1"},{"x":21.99,"y":605,"s":"B1"},{"x":22.029,"y":575,"s":"B1"},{"x":22.067,"y":595,"s":"B1"},{"x":22.106,"y":585,"s":"B1"},{"x":22.145,"y":575,"s":"B1"},{"x":22.183,"y":590,"s":"B1"},{"x":22.222,"y":570,"s":"B1"},{"x":22.26,"y":580,"s":"B1"},{"x":22.299,"y":570,"s":"B1"},{"x":22.337,"y":575,"s":"B1"},{"x":22.376,"y":565,"s":"B1"},{"x":22.414,"y":585,"s":"B1"},{"x":22.453,"y":590,"s":"B1"},{"x":22.492,"y":570,"s":"B1"},{"x":22.53,"y":555,"s":"B1"},{"x":22.569,"y":585,"s":"B1"},{"x":22.607,"y":550,"s":"B1"},{"x":22.646,"y":575,"s":"B1"},{"x":22.684,"y":570,"s":"B1"},{"x":22.723,"y":585,"s":"B1"},{"x":22.761,"y":675,"s":"B1"},{"x":22.8,"y":815,"s":"B1"},{"x":22.839,"y":895,"s":"B1"},{"x":22.877,"y":855,"s":"B1"},{"x":22.916,"y":730,"s":"B1"},{"x":22.954,"y":665,"s":"B1"},{"x":22.993,"y":605,"s":"B1"},{"x":23.031,"y":645,"s":"B1"},{"x":23.07,"y":670,"s":"B1"},{"x":23.108,"y":735,"s":"B1"},{"x":23.147,"y":795,"s":"B1"},{"x":23.186,"y":800,"s":"B1"},{"x":23.224,"y":745,"s":"B1"},{"x":23.263,"y":665,"s":"B1"},{"x":23.301,"y":615,"s":"B1"},{"x":23.34,"y":605,"s":"B1"},{"x":23.378,"y":595,"s":"B1"},{"x":23.417,"y":570,"s":"B1"},{"x":23.455,"y":585,"s":"B1"},{"x":23.494,"y":595,"s":"B1"},{"x":23.533,"y":575,"s":"B1"},{"x":23.571,"y":585,"s":"B1"},{"x":23.61,"y":595,"s":"B1"},{"x":23.648,"y":570,"s":"B1"},{"x":23.687,"y":600,"s":"B1"},{"x":23.725,"y":585,"s":"B1"},{"x":23.764,"y":590,"s":"B1"},{"x":23.802,"y":570,"s":"B1"},
{"x":21.913,"y":395,"s":"B2"},{"x":21.952,"y":405,"s":"B2"},{"x":21.99,"y":390,"s":"B2"},{"x":22.029,"y":425,"s":"B2"},{"x":22.067,"y":400,"s":"B2"},{"x":22.106,"y":395,"s":"B2"},{"x":22.145,"y":385,"s":"B2"},{"x":22.183,"y":375,"s":"B2"},{"x":22.222,"y":390,"s":"B2"},{"x":22.26,"y":380,"s":"B2"},{"x":22.299,"y":390,"s":"B2"},{"x":22.337,"y":370,"s":"B2"},{"x":22.376,"y":380,"s":"B2"},{"x":22.414,"y":375,"s":"B2"},{"x":22.453,"y":390,"s":"B2"},{"x":22.492,"y":370,"s":"B2"},{"x":22.53,"y":380,"s":"B2"},{"x":22.569,"y":365,"s":"B2"},{"x":22.607,"y":385,"s":"B2"},{"x":22.646,"y":380,"s":"B2"},{"x":22.684,"y":375,"s":"B2"},{"x":22.723,"y":385,"s":"B2"},{"x":22.761,"y":485,"s":"B2"},{"x":22.8,"y":615,"s":"B2"},{"x":22.839,"y":675,"s":"B2"},{"x":22.877,"y":635,"s":"B2"},{"x":22.916,"y":515,"s":"B2"},{"x":22.954,"y":425,"s":"B2"},{"x":22.993,"y":405,"s":"B2"},{"x":23.031,"y":410,"s":"B2"},{"x":23.07,"y":495,"s":"B2"},{"x":23.108,"y":555,"s":"B2"},{"x":23.147,"y":580,"s":"B2"},{"x":23.186,"y":555,"s":"B2"},{"x":23.224,"y":485,"s":"B2"},{"x":23.263,"y":425,"s":"B2"},{"x":23.301,"y":405,"s":"B2"},{"x":23.34,"y":390,"s":"B2"},{"x":23.378,"y":385,"s":"B2"},{"x":23.417,"y":375,"s":"B2"},{"x":23.455,"y":385,"s":"B2"},{"x":23.494,"y":370,"s":"B2"},{"x":23.533,"y":380,"s":"B2"},{"x":23.571,"y":370,"s":"B2"},{"x":23.61,"y":370,"s":"B2"},{"x":23.648,"y":365,"s":"B2"},{"x":23.687,"y":340,"s":"B2"},{"x":23.725,"y":370,"s":"B2"},{"x":23.764,"y":360,"s":"B2"},{"x":23.802,"y":360,"s":"B2"},
{"x":21.913,"y":115,"s":"B3"},{"x":21.952,"y":105,"s":"B3"},{"x":21.99,"y":95,"s":"B3"},{"x":22.029,"y":115,"s":"B3"},{"x":22.067,"y":100,"s":"B3"},{"x":22.106,"y":120,"s":"B3"},{"x":22.145,"y":85,"s":"B3"},{"x":22.183,"y":75,"s":"B3"},{"x":22.222,"y":55,"s":"B3"},{"x":22.26,"y":115,"s":"B3"},{"x":22.299,"y":100,"s":"B3"},{"x":22.337,"y":75,"s":"B3"},{"x":22.376,"y":115,"s":"B3"},{"x":22.414,"y":75,"s":"B3"},{"x":22.453,"y":115,"s":"B3"},{"x":22.492,"y":95,"s":"B3"},{"x":22.53,"y":125,"s":"B3"},{"x":22.569,"y":145,"s":"B3"},{"x":22.607,"y":65,"s":"B3"},{"x":22.646,"y":115,"s":"B3"},{"x":22.684,"y":140,"s":"B3"},{"x":22.723,"y":155,"s":"B3"},{"x":22.761,"y":215,"s":"B3"},{"x":22.8,"y":275,"s":"B3"},{"x":22.839,"y":395,"s":"B3"},{"x":22.877,"y":315,"s":"B3"},{"x":22.916,"y":235,"s":"B3"},{"x":22.954,"y":175,"s":"B3"},{"x":22.993,"y":95,"s":"B3"},{"x":23.031,"y":115,"s":"B3"},{"x":23.07,"y":165,"s":"B3"},{"x":23.108,"y":225,"s":"B3"},{"x":23.147,"y":295,"s":"B3"},{"x":23.186,"y":265,"s":"B3"},{"x":23.224,"y":195,"s":"B3"},{"x":23.263,"y":135,"s":"B3"},{"x":23.301,"y":95,"s":"B3"},{"x":23.34,"y":75,"s":"B3"},{"x":23.378,"y":85,"s":"B3"},{"x":23.417,"y":65,"s":"B3"},{"x":23.455,"y":100,"s":"B3"},{"x":23.494,"y":75,"s":"B3"},{"x":23.533,"y":105,"s":"B3"},{"x":23.571,"y":65,"s":"B3"},{"x":23.61,"y":95,"s":"B3"},{"x":23.648,"y":75,"s":"B3"},{"x":23.687,"y":105,"s":"B3"},{"x":23.725,"y":55,"s":"B3"},{"x":23.764,"y":65,"s":"B3"},{"x":23.802,"y":80,"s":"B3"}],
"h":[{"x":851.86,"y":725,"s":"B1"},{"x":852.0,"y":675,"s":"B1"},{"x":852.14,"y":690,"s":"B1"},{"x":852.27,"y":725,"s":"B1"},{"x":852.41,"y":685,"s":"B1"},{"x":852.54,"y":705,"s":"B1"},{"x":852.68,"y":680,"s":"B1"},{"x":852.81,"y":730,"s":"B1"},{"x":852.95,"y":700,"s":"B1"},{"x":853.08,"y":735,"s":"B1"},{"x":853.22,"y":765,"s":"B1"},{"x":853.36,"y":750,"s":"B1"},{"x":853.49,"y":840,"s":"B1"},{"x":853.63,"y":845,"s":"B1"},{"x":853.69,"y":895,"s":"B1"},{"x":853.76,"y":825,"s":"B1"},{"x":853.9,"y":835,"s":"B1"},{"x":854.03,"y":775,"s":"B1"},{"x":854.17,"y":805,"s":"B1"},{"x":854.31,"y":725,"s":"B1"},{"x":854.44,"y":795,"s":"B1"},{"x":854.58,"y":705,"s":"B1"},{"x":854.71,"y":765,"s":"B1"},{"x":854.85,"y":675,"s":"B1"},{"x":854.98,"y":775,"s":"B1"},{"x":855.12,"y":685,"s":"B1"},{"x":855.25,"y":765,"s":"B1"},{"x":855.39,"y":715,"s":"B1"},{"x":855.53,"y":745,"s":"B1"},{"x":855.66,"y":715,"s":"B1"},{"x":855.8,"y":725,"s":"B1"},{"x":855.93,"y":720,"s":"B1"},{"x":856.07,"y":735,"s":"B1"},{"x":856.2,"y":675,"s":"B1"},{"x":856.34,"y":745,"s":"B1"},{"x":856.47,"y":685,"s":"B1"},{"x":856.61,"y":755,"s":"B1"},{"x":856.75,"y":625,"s":"B1"},{"x":856.88,"y":715,"s":"B1"},{"x":857.02,"y":675,"s":"B1"},{"x":857.15,"y":725,"s":"B1"},{"x":857.29,"y":735,"s":"B1"},{"x":857.42,"y":675,"s":"B1"},{"x":857.56,"y":715,"s":"B1"},{"x":857.69,"y":645,"s":"B1"},{"x":857.83,"y":585,"s":"B1"},{"x":857.9,"y":555,"s":"B1"},{"x":857.97,"y":655,"s":"B1"},{"x":858.1,"y":775,"s":"B1"},{"x":858.24,"y":745,"s":"B1"},{"x":858.37,"y":665,"s":"B1"},{"x":858.51,"y":645,"s":"B1"},{"x":858.64,"y":685,"s":"B1"},{"x":858.7,"y":675,"s":"B1"},
{"x":851.86,"y":425,"s":"B2"},{"x":852.0,"y":415,"s":"B2"},{"x":852.14,"y":405,"s":"B2"},{"x":852.27,"y":375,"s":"B2"},{"x":852.41,"y":355,"s":"B2"},{"x":852.54,"y":395,"s":"B2"},{"x":852.68,"y":425,"s":"B2"},{"x":852.81,"y":385,"s":"B2"},{"x":852.95,"y":415,"s":"B2"},{"x":853.08,"y":405,"s":"B2"},{"x":853.22,"y":515,"s":"B2"},{"x":853.36,"y":615,"s":"B2"},{"x":853.49,"y":665,"s":"B2"},{"x":853.63,"y":660,"s":"B2"},{"x":853.69,"y":685,"s":"B2"},{"x":853.76,"y":635,"s":"B2"},{"x":853.9,"y":615,"s":"B2"},{"x":854.03,"y":575,"s":"B2"},{"x":854.17,"y":525,"s":"B2"},{"x":854.31,"y":495,"s":"B2"},{"x":854.44,"y":465,"s":"B2"},{"x":854.58,"y":460,"s":"B2"},{"x":854.71,"y":475,"s":"B2"},{"x":854.85,"y":420,"s":"B2"},{"x":854.98,"y":455,"s":"B2"},{"x":855.12,"y":445,"s":"B2"},{"x":855.25,"y":485,"s":"B2"},{"x":855.39,"y":495,"s":"B2"},{"x":855.53,"y":515,"s":"B2"},{"x":855.66,"y":510,"s":"B2"},{"x":855.8,"y":545,"s":"B2"},{"x":855.93,"y":535,"s":"B2"},{"x":856.07,"y":525,"s":"B2"},{"x":856.2,"y":495,"s":"B2"},{"x":856.34,"y":475,"s":"B2"},{"x":856.47,"y":465,"s":"B2"},{"x":856.61,"y":445,"s":"B2"},{"x":856.75,"y":470,"s":"B2"},{"x":856.88,"y":465,"s":"B2"},{"x":857.02,"y":445,"s":"B2"},{"x":857.15,"y":460,"s":"B2"},{"x":857.29,"y":445,"s":"B2"},{"x":857.42,"y":425,"s":"B2"},{"x":857.56,"y":435,"s":"B2"},{"x":857.69,"y":415,"s":"B2"},{"x":857.83,"y":445,"s":"B2"},{"x":857.97,"y":425,"s":"B2"},{"x":858.1,"y":420,"s":"B2"},{"x":858.24,"y":425,"s":"B2"},{"x":858.37,"y":415,"s":"B2"},{"x":858.51,"y":430,"s":"B2"},{"x":858.64,"y":410,"s":"B2"},{"x":858.7,"y":400,"s":"B2"},
{"x":851.86,"y":80,"s":"B3"},{"x":852.0,"y":65,"s":"B3"},{"x":852.14,"y":70,"s":"B3"},{"x":852.27,"y":65,"s":"B3"},{"x":852.41,"y":55,"s":"B3"},{"x":852.54,"y":60,"s":"B3"},{"x":852.68,"y":35,"s":"B3"},{"x":852.81,"y":85,"s":"B3"},{"x":852.95,"y":70,"s":"B3"},{"x":853.08,"y":95,"s":"B3"},{"x":853.22,"y":115,"s":"B3"},{"x":853.36,"y":135,"s":"B3"},{"x":853.49,"y":265,"s":"B3"},{"x":853.63,"y":385,"s":"B3"},{"x":853.69,"y":393,"s":"B3"},{"x":853.76,"y":395,"s":"B3"},{"x":853.9,"y":315,"s":"B3"},{"x":854.03,"y":265,"s":"B3"},{"x":854.17,"y":235,"s":"B3"},{"x":854.31,"y":175,"s":"B3"},{"x":854.44,"y":165,"s":"B3"},{"x":854.58,"y":145,"s":"B3"},{"x":854.71,"y":140,"s":"B3"},{"x":854.85,"y":135,"s":"B3"},{"x":854.98,"y":105,"s":"B3"},{"x":855.12,"y":90,"s":"B3"},{"x":855.25,"y":115,"s":"B3"},{"x":855.39,"y":120,"s":"B3"},{"x":855.53,"y":135,"s":"B3"},{"x":855.66,"y":145,"s":"B3"},{"x":855.8,"y":170,"s":"B3"},{"x":855.93,"y":185,"s":"B3"},{"x":856.07,"y":190,"s":"B3"},{"x":856.2,"y":185,"s":"B3"},{"x":856.34,"y":165,"s":"B3"},{"x":856.47,"y":135,"s":"B3"},{"x":856.61,"y":145,"s":"B3"},{"x":856.75,"y":115,"s":"B3"},{"x":856.88,"y":140,"s":"B3"},{"x":857.02,"y":115,"s":"B3"},{"x":857.15,"y":125,"s":"B3"},{"x":857.29,"y":100,"s":"B3"},{"x":857.42,"y":95,"s":"B3"},{"x":857.56,"y":75,"s":"B3"},{"x":857.69,"y":85,"s":"B3"},{"x":857.83,"y":85,"s":"B3"},{"x":857.97,"y":90,"s":"B3"},{"x":858.1,"y":75,"s":"B3"},{"x":858.24,"y":95,"s":"B3"},{"x":858.37,"y":85,"s":"B3"},{"x":858.51,"y":80,"s":"B3"},{"x":858.64,"y":70,"s":"B3"},{"x":858.7,"y":65,"s":"B3"}]
},
"columns":4,
"align":"none",
"bounds":"flush",
"spacing":{"row":43,"column":30},
"concat":[
{"width":197,"height":310,
"layer":[
{"encoding":{"x":{"field":"x","type":"quantitative","scale":{"domain":[68.85,86.21],"nice":false,"zero":false},"axis":{"values":[72,76,80,84]}},"y":{"field":"y","type":"quantitative","scale":{"domain":[0,930],"nice":false,"zero":false},"axis":null}},
"layer":[
{"data":{"name":"a"},"mark":{"type":"line"},"encoding":{"color":{"field":"s","type":"nominal","legend":null}}},
{"data":{"values":[{"x":75.08}]},"mark":{"type":"rule","strokeDash":[2,2],"strokeWidth":1.6,"color":"#111"},"encoding":{"y":null}},
{"data":{"values":[{"x":75.23,"y":904,"x2":76.9,"y2":900}]},"mark":{"type":"rule","strokeWidth":1,"color":"#111"},"encoding":{"x2":{"field":"x2"},"y2":{"field":"y2"}}},
{"data":{"values":[{"x":77.2,"y":899}]},"mark":{"type":"point","shape":"triangle-right","size":55,"angle":5}},
{"data":{"values":[{"x":69.64,"y":871,"t":"(a)"}]},"mark":{"type":"text","fontSize":17},"encoding":{"text":{"field":"t"}}},
{"data":{"values":[{"x":78.32,"y":881,"t":"Al2p"},{"x":77.58,"y":826,"t":"(Al₂O₃)"}]},"mark":{"type":"text"},"encoding":{"text":{"field":"t"}}}
]},
{"data":{"values":[{}]},
"layer":[
{"mark":{"type":"rule","color":"white","strokeWidth":1},"encoding":{"x":{"datum":58.85,"type":"quantitative","axis":null},"y":{"datum":0,"type":"quantitative","axis":null},"y2":{"datum":930}}},
{"mark":{"type":"text","text":"Intensity (arbitrary units or a.u.)","angle":270,"align":"center","baseline":"middle","fontSize":33,"color":"#000"},"encoding":{"x":{"datum":61.71,"type":"quantitative","axis":null},"y":{"datum":81,"type":"quantitative","axis":null}}},
{"mark":{"type":"rule","strokeWidth":15,"color":"#000"},"encoding":{"x":{"datum":65.46,"type":"quantitative","axis":null},"y":{"datum":-294,"type":"quantitative","axis":null},"y2":{"datum":474}}},
{"mark":{"type":"point","shape":"M -1 0.38 L 1 0.38 L 0 -0.38 Z","size":1764,"filled":true,"color":"#000","opacity":1},"encoding":{"x":{"datum":65.46,"type":"quantitative","axis":null},"y":{"datum":501,"type":"quantitative","axis":null}}}
]}
]},
{"width":196,"height":310,
"encoding":{"x":{"field":"x","type":"quantitative","scale":{"domain":[449.11,468.43],"nice":false,"zero":false},"axis":{"values":[452,456,460,464,468]}},"y":{"field":"y","type":"quantitative","scale":{"domain":[0,930],"nice":false,"zero":false},"axis":null}},
"layer":[
{"data":{"name":"b"},"mark":{"type":"line"},"encoding":{"color":{"field":"s","type":"nominal","legend":null}}},
{"data":{"values":[{"x":458.33},{"x":464.03}]},"mark":{"type":"rule","strokeDash":[2,2],"strokeWidth":1.6,"color":"#111"},"encoding":{"y":null}},
{"data":{"values":[{"x":458.33,"y":921,"x2":456.8,"y2":901},{"x":464.03,"y":861,"x2":463.2,"y2":849}]},"mark":{"type":"rule","strokeWidth":1,"color":"#111"},"encoding":{"x2":{"field":"x2"},"y2":{"field":"y2"}}},
{"data":{"values":[{"x":456.65,"y":899},{"x":463.05,"y":847}]},"mark":{"type":"point","shape":"triangle-left","size":55,"angle":-20}},
{"data":{"values":[{"x":449.87,"y":871,"t":"(b)"}]},"mark":{"type":"text","fontSize":17},"encoding":{"text":{"field":"t"}}},
{"data":{"values":[{"x":453.15,"y":871,"t":"Ti2p"},{"x":453.25,"y":806,"t":"(TiO₂)"},{"x":459.21,"y":826,"t":"Ti2p"},{"x":459.38,"y":761,"t":"(TiO₂)"}]},"mark":{"type":"text"},"encoding":{"text":{"field":"t"}}},
{"data":{"values":[{"x":456.22,"y":858,"t":"3/2"},{"x":462.28,"y":813,"t":"1/2"}]},"mark":{"type":"text","fontSize":11},"encoding":{"text":{"field":"t"}}}
]},
{"width":199,"height":310,
"encoding":{"x":{"field":"x","type":"quantitative","scale":{"domain":[571.89,592.41],"nice":false,"zero":false},"axis":{"values":[573,576,579,582,585,588,591]}},"y":{"field":"y","type":"quantitative","scale":{"domain":[0,930],"nice":false,"zero":false},"axis":null}},
"layer":[
{"data":{"name":"c"},"mark":{"type":"line"},"encoding":{"color":{"field":"s","type":"nominal","legend":null}}},
{"data":{"values":[{"x":576.51},{"x":586.17}]},"mark":{"type":"rule","strokeDash":[1.5,1.5],"strokeWidth":0.9,"color":"#555"},"encoding":{"y":null}},
{"data":{"values":[{"x":576.58,"y":898,"x2":577.9,"y2":894},{"x":586.17,"y":894,"x2":587.3,"y2":889}]},"mark":{"type":"rule","strokeWidth":1,"color":"#111"},"encoding":{"x2":{"field":"x2"},"y2":{"field":"y2"}}},
{"data":{"values":[{"x":578.05,"y":893},{"x":587.45,"y":888}]},"mark":{"type":"point","shape":"triangle-right","size":55,"angle":8}},
{"data":{"values":[{"x":572.92,"y":871,"t":"(c)"}]},"mark":{"type":"text","fontSize":17},"encoding":{"text":{"field":"t"}}},
{"data":{"values":[{"x":578.91,"y":878,"t":"Cr2p"},{"x":578.91,"y":816,"t":"Cr₂O₃"},{"x":587.06,"y":851,"t":"Cr2p"},{"x":587.06,"y":786,"t":"Cr₂O₃"}]},"mark":{"type":"text"},"encoding":{"text":{"field":"t"}}},
{"data":{"values":[{"x":582.49,"y":865,"t":"3/2"},{"x":590.64,"y":838,"t":"1/2"}]},"mark":{"type":"text","fontSize":11},"encoding":{"text":{"field":"t"}}}
]},
{"width":200,"height":310,
"encoding":{"x":{"field":"x","type":"quantitative","scale":{"domain":[21.78,36.5],"nice":false,"zero":false},"axis":{"values":[22,24,26,28,30,32,34,36]}},"y":{"field":"y","type":"quantitative","scale":{"domain":[0,930],"nice":false,"zero":false},"axis":null}},
"layer":[
{"data":{"name":"d"},"mark":{"type":"line"},"encoding":{"color":{"field":"s","type":"nominal","legend":null}}},
{"data":{"values":[{"x":26.0}]},"mark":{"type":"rule","strokeDash":[2,2],"strokeWidth":1.6,"color":"#111"},"encoding":{"y":null}},
{"data":{"values":[{"x":26.05,"y":884,"x2":26.75,"y2":880}]},"mark":{"type":"rule","strokeWidth":1,"color":"#111"},"encoding":{"x2":{"field":"x2"},"y2":{"field":"y2"}}},
{"data":{"values":[{"x":26.9,"y":879}]},"mark":{"type":"point","shape":"triangle-right","size":55,"angle":6}},
{"data":{"values":[{"x":22.74,"y":871,"t":"(d)"}]},"mark":{"type":"text","fontSize":17},"encoding":{"text":{"field":"t"}}},
{"data":{"values":[{"x":27.72,"y":866,"t":"Ta4f"},{"x":27.72,"y":806,"t":"Ta₂O₅"}]},"mark":{"type":"text"},"encoding":{"text":{"field":"t"}}},
{"data":{"values":[{"x":30.08,"y":854,"t":"7/2"}]},"mark":{"type":"text","fontSize":11},"encoding":{"text":{"field":"t"}}},
{"data":{"values":[{"x":37.02,"y":627,"t":"10 °C/min"},{"x":39.15,"y":531,"t":"(B1)"},{"x":37.02,"y":381,"t":"50 °C/min"},{"x":39.15,"y":270,"t":"(B2)"},{"x":37.16,"y":150,"t":"1000 °C/min"},{"x":39.15,"y":45,"t":"(B3)"}]},"mark":{"type":"text","fontSize":23,"color":"#000"},"encoding":{"text":{"field":"t"}}}
]},
{"width":196,"height":310,
"encoding":{"x":{"field":"x","type":"quantitative","scale":{"domain":[203.89,212.0],"nice":false,"zero":false},"axis":{"values":[204,206,208,210,212]}},"y":{"field":"y","type":"quantitative","scale":{"domain":[0,930],"nice":false,"zero":false},"axis":null}},
"layer":[
{"data":{"name":"e"},"mark":{"type":"line"},"encoding":{"color":{"field":"s","type":"nominal","legend":null}}},
{"data":{"values":[{"x":206.51,"x2":206.81,"y":930,"y2":0},{"x":206.62,"x2":206.92,"y":930,"y2":0},{"x":209.55,"x2":209.55,"y":930,"y2":0}]},"mark":{"type":"rule","strokeDash":[1.5,1.5],"strokeWidth":0.9,"color":"#555"},"encoding":{"x2":{"field":"x2"},"y2":{"field":"y2"}}},
{"data":{"values":[{"x":206.58,"y":890,"x2":206.02,"y2":858},{"x":209.51,"y":890,"x2":210.1,"y2":883}]},"mark":{"type":"rule","strokeWidth":1,"color":"#111"},"encoding":{"x2":{"field":"x2"},"y2":{"field":"y2"}}},
{"data":{"values":[{"x":205.96,"y":855}]},"mark":{"type":"point","shape":"triangle-left","size":55,"angle":-40}},
{"data":{"values":[{"x":210.2,"y":882}]},"mark":{"type":"point","shape":"triangle-right","size":55,"angle":10}},
{"data":{"values":[{"x":204.34,"y":875,"t":"(e)"}]},"mark":{"type":"text","fontSize":17},"encoding":{"text":{"field":"t"}}},
{"data":{"values":[{"x":207.19,"y":895,"t":"Nb3d"},{"x":207.19,"y":840,"t":"(Nb₂O₅)"},{"x":204.41,"y":795,"t":"NbO₂"},{"x":210.51,"y":875,"t":"NbO₂"}]},"mark":{"type":"text"},"encoding":{"text":{"field":"t"}}},
{"data":{"values":[{"x":208.74,"y":884,"t":"5/2"}]},"mark":{"type":"text","fontSize":11},"encoding":{"text":{"field":"t"}}}
]},
{"width":201,"height":310,
"layer":[
{"encoding":{"x":{"field":"x","type":"quantitative","scale":{"domain":[702.13,721.26],"nice":false,"zero":false},"axis":{"values":[704,708,712,716,720]}},"y":{"field":"y","type":"quantitative","scale":{"domain":[0,930],"nice":false,"zero":false},"axis":null}},
"layer":[
{"data":{"name":"f"},"mark":{"type":"line"},"encoding":{"color":{"field":"s","type":"nominal","legend":null}}},
{"data":{"values":[{"x":709.48,"y":522,"x2":712.44,"y2":522},{"x":709.1,"y":227,"x2":712.76,"y2":227}]},"mark":{"type":"rule","strokeWidth":1.2,"color":"#111"},"encoding":{"x2":{"field":"x2"},"y2":{"field":"y2"}}},
{"data":{"values":[{"x":709.55,"y":522},{"x":709.17,"y":227}]},"mark":{"type":"point","shape":"triangle-left","size":55}},
{"data":{"values":[{"x":712.37,"y":522},{"x":712.69,"y":227}]},"mark":{"type":"point","shape":"triangle-right","size":55}},
{"data":{"values":[{"x":702.41,"y":875,"t":"(f)"}]},"mark":{"type":"text","fontSize":17},"encoding":{"text":{"field":"t"}}},
{"data":{"values":[{"x":711.64,"y":160,"t":"Fe2p"},{"x":708.3,"y":100,"t":"(FeO/Fe₃O₄/Fe₂O"},{"x":713.39,"y":53,"t":"₃)"}]},"mark":{"type":"text"},"encoding":{"text":{"field":"t"}}},
{"data":{"values":[{"x":715.11,"y":149,"t":"3/2"}]},"mark":{"type":"text","fontSize":11},"encoding":{"text":{"field":"t"}}}
]},
{"data":{"values":[{}]},
"layer":[
{"mark":{"type":"rule","strokeWidth":17,"color":"#000"},"encoding":{"x":{"datum":708.03,"type":"quantitative","axis":null},"x2":{"datum":736.01},"y":{"datum":-148.5,"type":"quantitative","axis":null}}},
{"mark":{"type":"point","shape":"M -0.53 -1 L 0.53 0 L -0.53 1 Z","size":1024,"filled":true,"color":"#000","opacity":1},"encoding":{"x":{"datum":736.73,"type":"quantitative","axis":null},"y":{"datum":-148.5,"type":"quantitative","axis":null}}},
{"mark":{"type":"text","text":"Binding Energy (eV)","fontSize":32,"align":"center","baseline":"middle","color":"#000"},"encoding":{"x":{"datum":723.16,"type":"quantitative","axis":null},"y":{"datum":-240,"type":"quantitative","axis":null}}}
]}
]},
{"width":194,"height":310,
"encoding":{"x":{"field":"x","type":"quantitative","scale":{"domain":[21.942,23.812],"nice":false,"zero":false},"axis":{"values":[22,22.4,22.8,23.2,23.6],"format":".0f"}},"y":{"field":"y","type":"quantitative","scale":{"domain":[0,930],"nice":false,"zero":false},"axis":null}},
"layer":[
{"data":{"name":"g"},"mark":{"type":"line"},"encoding":{"color":{"field":"s","type":"nominal","legend":null}}},
{"data":{"values":[{"x":22.855},{"x":23.157}]},"mark":{"type":"rule","strokeDash":[1.5,1.5],"strokeWidth":0.9,"color":"#555"},"encoding":{"y":null}},
{"data":{"values":[{"x":22.839,"y":900,"x2":22.745,"y2":869},{"x":23.166,"y":820,"x2":23.305,"y2":797}]},"mark":{"type":"rule","strokeWidth":1,"color":"#111"},"encoding":{"x2":{"field":"x2"},"y2":{"field":"y2"}}},
{"data":{"values":[{"x":22.732,"y":866}]},"mark":{"type":"point","shape":"triangle-left","size":55,"angle":-43}},
{"data":{"values":[{"x":23.318,"y":794}]},"mark":{"type":"point","shape":"triangle-right","size":55,"angle":28}},
{"data":{"values":[{"x":22.01,"y":875,"t":"(g)"}]},"mark":{"type":"text","fontSize":17},"encoding":{"text":{"field":"t"}}},
{"data":{"values":[{"x":22.251,"y":840,"t":"Mo3d"},{"x":22.251,"y":780,"t":"MoO₃"},{"x":23.353,"y":755,"t":"Mo3d"}]},"mark":{"type":"text"},"encoding":{"text":{"field":"t"}}},
{"data":{"values":[{"x":22.637,"y":829,"t":"5/2"}]},"mark":{"type":"text","fontSize":11},"encoding":{"text":{"field":"t"}}}
]},
{"width":203,"height":310,
"encoding":{"x":{"field":"x","type":"quantitative","scale":{"domain":[851.79,858.7],"nice":false,"zero":false},"axis":{"values":[852,853,854,855,856,857,858]}},"y":{"field":"y","type":"quantitative","scale":{"domain":[0,930],"nice":false,"zero":false},"axis":null}},
"layer":[
{"data":{"name":"h"},"mark":{"type":"line"},"encoding":{"color":{"field":"s","type":"nominal","legend":null}}},
{"data":{"values":[{"x":853.73},{"x":855.96}]},"mark":{"type":"rule","strokeDash":[1.5,1.5],"strokeWidth":0.9,"color":"#555"},"encoding":{"y":null}},
{"data":{"values":[{"x":853.76,"y":440,"x2":854.25,"y2":413},{"x":855.99,"y":403,"x2":856.48,"y2":374}]},"mark":{"type":"rule","strokeWidth":1,"color":"#111"},"encoding":{"x2":{"field":"x2"},"y2":{"field":"y2"}}},
{"data":{"values":[{"x":854.3,"y":410},{"x":856.53,"y":371}]},"mark":{"type":"point","shape":"triangle-right","size":55,"angle":30}},
{"data":{"values":[{"x":852.26,"y":875,"t":"(h)"}]},"mark":{"type":"text","fontSize":17},"encoding":{"text":{"field":"t"}}},
{"data":{"values":[{"x":854.18,"y":360,"t":"Ni2p"},{"x":854.35,"y":305,"t":"(NiO)"},{"x":856.38,"y":315,"t":"Ni2p"},{"x":856.55,"y":260,"t":"(NiO)"}]},"mark":{"type":"text"},"encoding":{"text":{"field":"t"}}},
{"data":{"values":[{"x":855.3,"y":349,"t":"3/2"},{"x":857.5,"y":304,"t":"3/2"}]},"mark":{"type":"text","fontSize":11},"encoding":{"text":{"field":"t"}}},
{"data":{"values":[{"x":859.01,"y":729,"t":"10 °C/min"},{"x":859.86,"y":621,"t":"(B1)"},{"x":859.18,"y":444,"t":"50 °C/min"},{"x":859.86,"y":324,"t":"(B2)"},{"x":858.94,"y":159,"t":"1000 °C/min"},{"x":859.86,"y":66,"t":"(B3)"}]},"mark":{"type":"text","fontSize":23,"color":"#000"},"encoding":{"text":{"field":"t"}}}
]}
]
}
